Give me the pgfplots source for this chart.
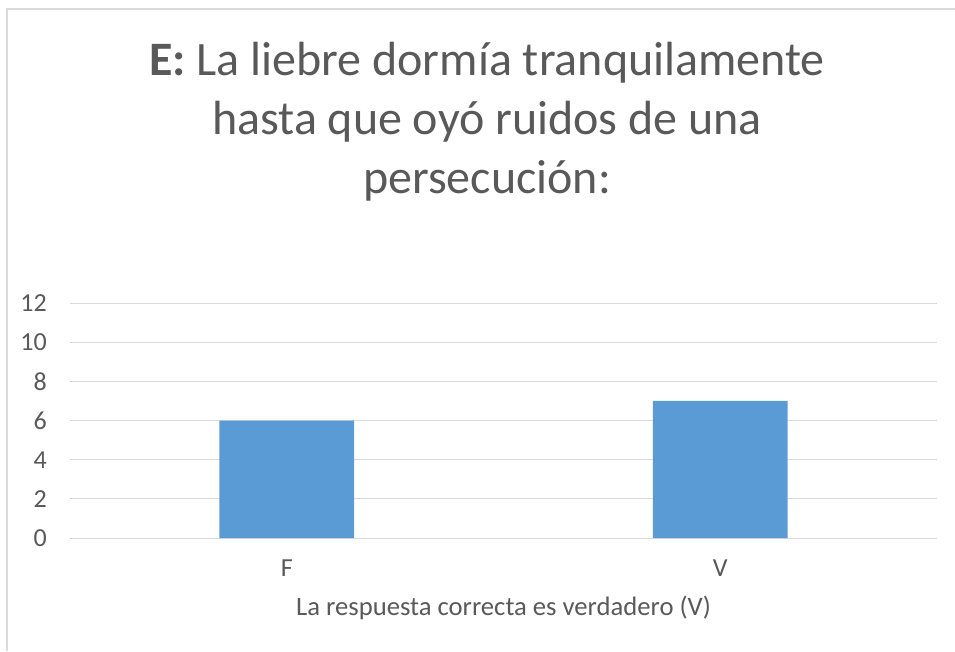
\documentclass[border=0pt]{standalone}
\usepackage{pgfplots}
\pgfplotsset{compat=1.18}
\usepackage{fontspec}
\setmainfont{Carlito}
\definecolor{txt}{HTML}{595959}
\definecolor{gridc}{HTML}{D9D9D9}
\definecolor{barc}{HTML}{5B9BD5}
\definecolor{framec}{HTML}{D9D9D9}
\begin{document}
\begin{tikzpicture}[x=0.75pt,y=0.75pt]
\path[use as bounding box] (0,0) rectangle (955,651);
\draw[framec, line width=1.5pt] (7,0) -- (7,642) -- (955,642);
\node[anchor=base, font=\fontsize{36}{43}\selectfont, text=txt] at (487,575) {\textbf{E:} La liebre dormía tranquilamente};
\node[anchor=base, font=\fontsize{36}{43}\selectfont, text=txt] at (487,516.5) {hasta que oyó ruidos de una};
\node[anchor=base, font=\fontsize{36}{43}\selectfont, text=txt] at (487,458) {persecución:};
\begin{axis}[
  at={(52.5pt,84.75pt)}, anchor=south west,
  scale only axis, width=650.25pt, height=176.25pt,
  xmin=-0.5, xmax=1.5, ymin=0, ymax=12,
  ytick={0,2,...,12}, xtick={0,1}, xticklabels={F,V},
  /pgf/number format/assume math mode=true,
  ymajorgrids, grid style={gridc, line width=0.75pt},
  axis line style={draw=none}, major tick length=0pt,
  tick label style={font=\fontsize{19.5}{23}\selectfont, text=txt},
  xticklabel style={anchor=base, yshift=-28.5pt},
  yticklabel style={anchor=east, inner sep=0pt, xshift=-17.25pt},
  xlabel={La respuesta correcta es verdadero (V)},
  xlabel style={at={(axis description cs:0.5,0)}, anchor=base, yshift=-57.75pt, font=\fontsize{20}{24}\selectfont, text=txt},
  clip=false,
]
\addplot[ybar, fill=barc, draw=none, bar width=0.311] coordinates {(0,6) (1,7)};
\end{axis}
\end{tikzpicture}
\end{document}
